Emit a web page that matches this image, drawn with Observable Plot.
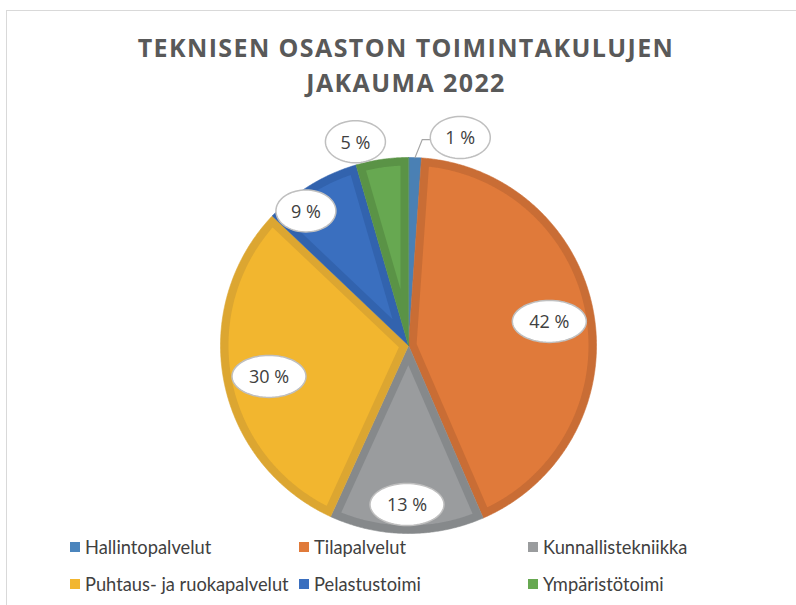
<!DOCTYPE html>
<html>
<head>
<meta charset="utf-8">
<script src="https://cdn.jsdelivr.net/npm/d3@7"></script>
<script src="https://cdn.jsdelivr.net/npm/@observablehq/plot@0.6"></script>
<style>
  html, body { margin: 0; padding: 0; background: #fff; }
  #wrap { position: relative; width: 796px; height: 605px; overflow: hidden; }
  #frame { position: absolute; left: 6px; top: 10px; width: 820px; height: 620px;
           border-top: 1.5px solid #d9d9d9; border-left: 1.5px solid #d9d9d9; }
  #chart { position: absolute; left: 0; top: 0; }
  #title { position: absolute; left: 0; top: 30px; width: 812px; text-align: center;
           font-family: "Open Sans", sans-serif; font-weight: 700; font-size: 25px;
           color: #595959; letter-spacing: 1.4px; line-height: 35px; }
  .item { position: absolute; display: flex; align-items: center;
          font-family: Lato, sans-serif; font-size: 18.3px; color: #404040; white-space: nowrap; }
  .sw { width: 10px; height: 10px; margin-right: 5px; }
</style>
</head>
<body>
<div id="wrap">
  <div id="frame"></div>
  <div id="chart"></div>
  <div id="title">TEKNISEN OSASTON TOIMINTAKULUJEN<br>JAKAUMA 2022</div>
</div>
<script>
// ---- data ----
const categories = ["Hallintopalvelut", "Tilapalvelut", "Kunnallistekniikka",
                    "Puhtaus- ja ruokapalvelut", "Pelastustoimi", "Ympäristötoimi"];
const shares = [1.1, 42.4, 13.3, 30.3, 8.4, 4.5];
const labels = ["1 %", "42 %", "13 %", "30 %", "9 %", "5 %"];

// ---- styling ----
const fillColors   = ["#4b85bd", "#e07a3a", "#9a9c9e", "#f2b62f", "#3a6fbf", "#67a851"];
const borderColors = ["#4a80b4", "#c96d35", "#86898b", "#dca631", "#3263ae", "#5a9346"];
// label placement: [radius factor, angular nudge in degrees]
const labelPlacement = [[1.14, 12], [0.76, 0], [0.846, 0], [0.76, -1.5], [0.9, -6], [1.12, -6.5]];
const legendCols = [70, 299, 528];
const legendRows = [548, 585];

const R = 188, W = 8;
const rad = Math.PI / 180;
const total = d3.sum(shares);
let acc = 0;
const slices = shares.map((s, i) => {
  const a0 = acc / total * 2 * Math.PI; acc += s;
  const a1 = acc / total * 2 * Math.PI;
  return {i, name: categories[i], a0, a1};
});
const pt = (a, r) => ({x: r * Math.sin(a), y: r * Math.cos(a)});
function wedge(a0, a1, r, apex) {
  const pts = [apex || {x: 0, y: 0}];
  const n = Math.max(2, Math.ceil((a1 - a0) / (0.4 * rad)));
  for (let k = 0; k <= n; k++) pts.push(pt(a0 + (a1 - a0) * k / n, r));
  return pts;
}
function inset(a0, a1) {
  const al = (a1 - a0) / 2, Rp = R - W;
  const d = W / Math.sin(al);
  const dl = Math.asin(W / Rp);
  if (a1 - dl <= a0 + dl || d >= Rp * 0.9) return null;
  return wedge(a0 + dl, a1 - dl, Rp, pt((a0 + a1) / 2, d));
}

const marks = [];
slices.forEach(s => {
  marks.push(Plot.line(wedge(s.a0, s.a1, R), {x: "x", y: "y", curve: "linear-closed",
    fill: borderColors[s.i], stroke: borderColors[s.i], strokeWidth: 0.6}));
  const inner = inset(s.a0, s.a1);
  if (inner) marks.push(Plot.line(inner, {x: "x", y: "y", curve: "linear-closed",
    fill: fillColors[s.i], stroke: "none"}));
});

// labels
const labelData = slices.map(s => {
  const [f, nudge] = labelPlacement[s.i];
  const mid = (s.a0 + s.a1) / 2;
  const p = pt(mid + nudge * rad, f * R);
  const rx = labels[s.i].length <= 3 ? 30 : 37, ry = 21;
  return {...p, label: labels[s.i], rx, ry, mid, nudge, f};
});
labelData.forEach(l => {
  if (l.f > 1 && Math.abs(l.nudge) > 10) {
    const e = pt(l.mid, R);
    const leader = [e, {x: l.x - l.rx - 8, y: l.y - 2}, {x: l.x - l.rx, y: l.y - 2}];
    marks.push(Plot.line(leader, {x: "x", y: "y", stroke: "#a6a6a6", strokeWidth: 1.2}));
  }
  const ell = d3.range(0, 73).map(k => {
    const t = k / 72 * 2 * Math.PI;
    return {x: l.x + l.rx * Math.cos(t), y: l.y + l.ry * Math.sin(t)};
  });
  marks.push(Plot.line(ell, {x: "x", y: "y", curve: "linear-closed",
    fill: "white", stroke: "#bfbfbf", strokeWidth: 1.5}));
});
marks.push(Plot.text(labelData, {x: "x", y: "y", text: "label", fill: "#404040",
  fontSize: 18, fontFamily: "Open Sans", dy: 1}));

const chart = Plot.plot({
  width: 796, height: 605, margin: 0,
  x: {domain: [-408, 388], axis: null},
  y: {domain: [-260, 345], axis: null},
  style: {background: "transparent", overflow: "visible"},
  marks
});
document.getElementById("chart").appendChild(chart);

// legend
const wrap = document.getElementById("wrap");
categories.forEach((c, i) => {
  const it = document.createElement("div");
  it.className = "item";
  it.style.left = legendCols[i % 3] + "px";
  it.style.top = (legendRows[Math.floor(i / 3)] - 12) + "px";
  it.innerHTML = `<span class="sw" style="background:${fillColors[i]}"></span><span>${c}</span>`;
  wrap.appendChild(it);
});
</script>
</body>
</html>
